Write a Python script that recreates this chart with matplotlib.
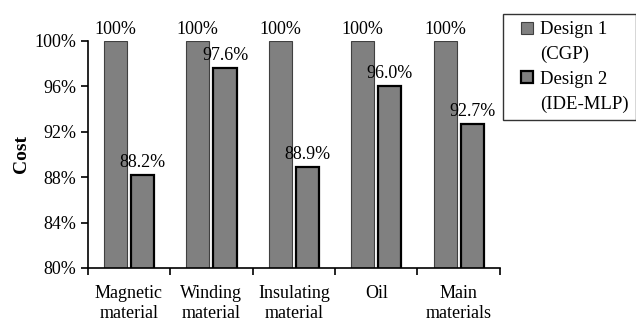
import matplotlib.pyplot as plt
from matplotlib.lines import Line2D
import numpy as np

categories = ['Magnetic\nmaterial', 'Winding\nmaterial', 'Insulating\nmaterial', 'Oil', 'Main\nmaterials']
design1 = [100.0, 100.0, 100.0, 100.0, 100.0]
design2 = [88.2, 97.6, 88.9, 96.0, 92.7]
labels1 = ['100%', '100%', '100%', '100%', '100%']
labels2 = ['88.2%', '97.6%', '88.9%', '96.0%', '92.7%']

plt.rcParams['font.family'] = ['Liberation Serif', 'DejaVu Serif']

fig = plt.figure(figsize=(6.36, 3.22), dpi=100)
ax = fig.add_axes([0.138, 0.168, 0.648, 0.705])

x = np.arange(len(categories))
w = 0.28
off = 0.165

b1 = ax.bar(x - off, design1, w, color='#808080', edgecolor='#404040', linewidth=0.8)
b2 = ax.bar(x + off, design2, w, color='#808080', edgecolor='black', linewidth=1.6)

for xi, v, t in zip(x - off, design1, labels1):
    ax.text(xi, v + 0.6, t, ha='center', va='baseline', fontsize=13)
for xi, v, t in zip(x + off, design2, labels2):
    ax.text(xi, v + 0.7, t, ha='center', va='baseline', fontsize=13)

ax.set_xlim(-0.5, len(categories) - 0.5)
ax.set_ylim(80, 100)
ax.set_yticks([80, 84, 88, 92, 96, 100])
ax.set_yticklabels(['80%', '84%', '88%', '92%', '96%', '100%'], fontsize=13)

# boundaries as major ticks, labels at centres
ax.set_xticks(np.arange(len(categories) + 1) - 0.5)
ax.set_xticklabels([])
ax.set_xticks(x, minor=True)
ax.set_xticklabels(categories, minor=True, fontsize=13, linespacing=1.3)
ax.tick_params(axis='x', which='minor', length=0, pad=12)
ax.tick_params(axis='x', which='major', length=5, width=1.2, direction='out')
ax.tick_params(axis='y', length=5, width=1.2, direction='out')

ax.spines['top'].set_visible(False)
ax.spines['right'].set_visible(False)
ax.spines['left'].set_linewidth(1.2)
ax.spines['bottom'].set_linewidth(1.2)

ax.set_ylabel('Cost', fontsize=14, fontweight='bold', labelpad=3)

blank = Line2D([], [], linestyle='none')
handles = [Line2D([], [], linestyle='none', marker='s', markersize=8.5, markerfacecolor='#808080',
                  markeredgecolor='#404040', markeredgewidth=0.8), blank,
           Line2D([], [], linestyle='none', marker='s', markersize=8.5, markerfacecolor='#808080',
                  markeredgecolor='black', markeredgewidth=1.6), blank]
names = ['Design 1', '(CGP)', 'Design 2', '(IDE-MLP)']
leg = ax.legend(handles, names, loc='upper left', bbox_to_anchor=(1.007, 1.12), fontsize=13.5,
                frameon=True, fancybox=False, edgecolor='black', handlelength=1.75,
                handletextpad=-0.15, borderpad=0.4, labelspacing=0.4,
                borderaxespad=0)
leg.get_frame().set_linewidth(1.0)

fig.savefig('out.png', dpi=100)
